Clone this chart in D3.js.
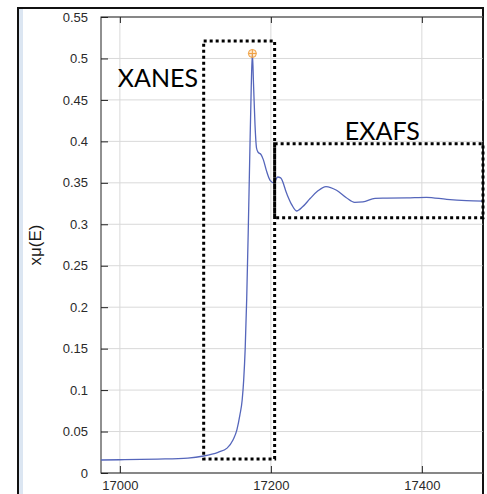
<!DOCTYPE html>
<html>
<head>
<meta charset="utf-8">
<script src="https://cdn.jsdelivr.net/npm/d3@7"></script>
<style>
  body { margin: 0; background: #fff; }
  svg { display: block; }
</style>
</head>
<body>
<div id="chart"></div>
<script>
// spectrum
var energy = [16975, 17000, 17050, 17090, 17111, 17130, 17142, 17150, 17155, 17159, 17162, 17164,
  17166, 17168, 17170, 17172, 17174, 17175.5, 17177, 17179, 17181, 17183, 17187, 17190, 17194,
  17199, 17204, 17209, 17213, 17221, 17228, 17234, 17242, 17252, 17262, 17273, 17287, 17300,
  17311, 17322, 17338, 17353, 17380, 17406, 17433, 17459, 17481];
var mu = [0.0157, 0.0160, 0.0168, 0.0180, 0.0205, 0.0250, 0.0300, 0.0400, 0.0520, 0.0700, 0.0880, 0.112,
  0.150, 0.210, 0.290, 0.380, 0.465, 0.506, 0.470, 0.420, 0.392, 0.387, 0.384, 0.378, 0.365,
  0.353, 0.350, 0.357, 0.356, 0.337, 0.323, 0.316, 0.321, 0.331, 0.340, 0.3455, 0.341, 0.332,
  0.3265, 0.327, 0.3313, 0.3315, 0.3318, 0.3325, 0.330, 0.3285, 0.328];

var peak = [17175.5, 0.506];

var xTicks = [17000, 17200, 17400];
var yTicks = [0, 0.05, 0.1, 0.15, 0.2, 0.25, 0.3, 0.35, 0.4, 0.45, 0.5, 0.55];

// regions: [x0, x1, y0, y1]
var xanesBox = [17111, 17205, 0.0169, 0.521];
var exafsBox = [17205, 17481, 0.308, 0.397];

var W = 487, H = 494;
var margin = { top: 17, right: 4, bottom: 21, left: 101 };
var width = W - margin.left - margin.right,
  height = H - margin.top - margin.bottom;

var svg = d3.select("#chart").append("svg")
  .attr("width", W)
  .attr("height", H);

// outer frame
svg.append("rect").attr("x", 19).attr("y", 9).attr("width", 4).attr("height", H - 9).attr("fill", "#dce6f2");
svg.append("path")
  .attr("d", "M18,494V8H483V494")
  .attr("fill", "none")
  .attr("stroke", "#111")
  .attr("stroke-width", 2);

var g = svg.append("g").attr("transform", `translate(${margin.left}, ${margin.top})`);

var x = d3.scaleLinear().domain([16975, 17481]).range([0, width]);
var y = d3.scaleLinear().domain([0, 0.55]).range([height, 0]);

// grid
g.append("g").selectAll("line").data(xTicks).join("line")
  .attr("x1", d => x(d)).attr("x2", d => x(d))
  .attr("y1", 0).attr("y2", height)
  .attr("stroke", "#d9d9d9");
g.append("g").selectAll("line").data(yTicks).join("line")
  .attr("x1", 0).attr("x2", width)
  .attr("y1", d => y(d)).attr("y2", d => y(d))
  .attr("stroke", "#d9d9d9");

// axes
var yAxis = d3.axisLeft(y).tickValues(yTicks).tickSize(-7).tickPadding(13).tickFormat(d3.format("~g"));
var xAxis = d3.axisBottom(x).tickValues(xTicks).tickSize(-7).tickPadding(8).tickFormat(d3.format("d"));
var xTop = d3.axisTop(x).tickValues(xTicks).tickSize(-6).tickFormat("");

var ya = g.append("g").call(yAxis);
var xa = g.append("g").attr("transform", `translate(0, ${height})`).call(xAxis);
var xt = g.append("g").call(xTop);
[ya, xa, xt].forEach(function (a) {
  a.select(".domain").remove();
  a.selectAll("line").attr("stroke", "#222");
  a.selectAll("text")
    .attr("fill", "#2a2a2a")
    .style("font-family", "'Liberation Sans', Arial, sans-serif")
    .style("font-size", "13px");
});

g.append("rect")
  .attr("width", width).attr("height", height)
  .attr("fill", "none").attr("stroke", "#222").attr("stroke-width", 1);

// y label
svg.append("text")
  .attr("transform", "translate(41, 245) rotate(-90)")
  .attr("text-anchor", "middle")
  .attr("fill", "#1a1a1a")
  .style("font-family", "'Liberation Sans', Arial, sans-serif")
  .style("font-size", "17px")
  .text("xμ(E)");

// curve
var pts = energy.map((e, i) => [e, mu[i]]);
var line = d3.line().x(d => x(d[0])).y(d => y(d[1])).curve(d3.curveMonotoneX);
g.append("path")
  .datum(pts)
  .attr("d", line)
  .attr("fill", "none")
  .attr("stroke", "#5566bb")
  .attr("stroke-width", 1.3);

// peak marker
g.append("circle")
  .attr("cx", x(peak[0])).attr("cy", y(peak[1])).attr("r", 4)
  .attr("fill", "rgba(250,190,120,0.35)")
  .attr("stroke", "#f0a040").attr("stroke-width", 1);
g.append("path")
  .attr("d", `M${x(peak[0]) - 4},${y(peak[1])}h8M${x(peak[0])},${y(peak[1]) - 4}v8`)
  .attr("stroke", "#f0a040").attr("stroke-width", 1);

// dotted region boxes
function box(b) {
  g.append("rect")
    .attr("x", x(b[0])).attr("y", y(b[3]))
    .attr("width", x(b[1]) - x(b[0]))
    .attr("height", y(b[2]) - y(b[3]))
    .attr("fill", "none")
    .attr("stroke", "#000")
    .attr("stroke-width", 3)
    .attr("stroke-dasharray", "3 3");
}
box(xanesBox);
box(exafsBox);

// labels
g.append("text")
  .attr("x", x(17000) - 2).attr("y", y(0.465))
  .style("font-family", "Lato, 'Open Sans', sans-serif")
  .style("font-size", "25px")
  .attr("fill", "#000")
  .text("XANES");
g.append("text")
  .attr("x", x(17298)).attr("y", y(0.402))
  .style("font-family", "Lato, 'Open Sans', sans-serif")
  .style("font-size", "25px")
  .attr("fill", "#000")
  .text("EXAFS");
</script>
</body>
</html>
